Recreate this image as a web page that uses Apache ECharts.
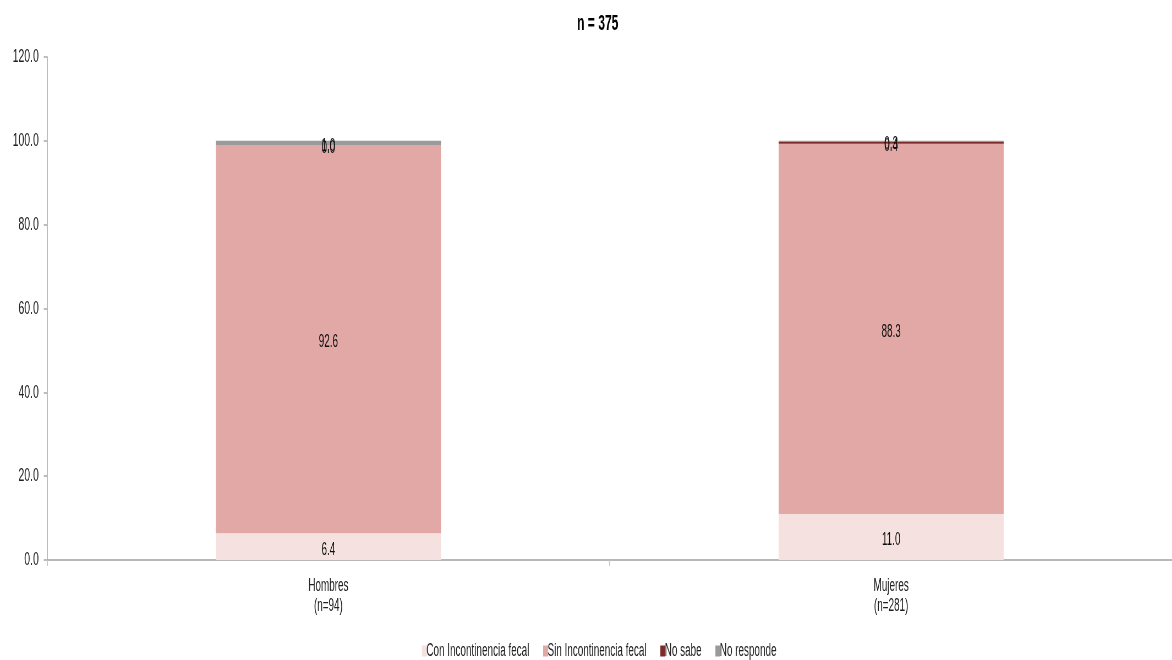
<!DOCTYPE html>
<html>
<head>
<meta charset="utf-8">
<script src="https://cdn.jsdelivr.net/npm/echarts@6/dist/echarts.min.js"></script>
<style>
html,body{margin:0;padding:0;background:#fff;overflow:hidden}
#wrap{width:1172px;height:660px;overflow:hidden;position:relative}
#c{height:660px;transform-origin:0 0;position:absolute;left:0;top:0}
</style>
</head>
<body>
<div id="wrap"><div id="c"></div></div>
<script>
const categories = ['Hombres\n(n=94)', 'Mujeres\n(n=281)'];
const conIncontinencia = [6.4, 11.0];
const sinIncontinencia = [92.6, 88.3];
const noSabe = [0.0, 0.4];
const noResponde = [1.0, 0.3];
const yTicks = [0, 20, 40, 60, 80, 100, 120];
const seriesNames = ['Con Incontinencia fecal', 'Sin Incontinencia fecal', 'No sabe', 'No responde'];
const colors = ['#f4e1e0', '#e1a8a6', '#7b2b2b', '#9a9a9a'];

// the reference uses a very narrow typeface; the whole chart is drawn wider and squeezed horizontally
const SX = 0.55;
const W = 1172 / SX;
const el = document.getElementById('c');
el.style.width = W + 'px';
el.style.transform = 'scaleX(' + SX + ')';

const FONT = '"Liberation Sans", Arial, sans-serif';
const chart = echarts.init(el, null, {width: W, height: 660});
const dataSets = [conIncontinencia, sinIncontinencia, noSabe, noResponde];

chart.setOption({
  animation: false,
  title: {
    text: 'n = 375', left: 574 / SX, top: 8,
    textStyle: {fontFamily: FONT, fontSize: 22, fontWeight: 'bold', color: '#000'}
  },
  legend: {
    top: 637, left: 419 / SX,
    itemWidth: 9, itemHeight: 11, itemGap: 25,
    icon: 'rect',
    textStyle: {fontFamily: FONT, fontSize: 18, color: '#222', padding: [0,0,0,-6]},
    data: seriesNames
  },
  grid: {left: 47 / SX, right: 0, top: 57, bottom: 100, containLabel: false},
  xAxis: {
    type: 'category', data: categories,
    axisLine: {lineStyle: {color: '#a0a0a0', width: 1.5}},
    axisTick: {show: true, length: 6, lineStyle: {color: '#c8c8c8', width: 2}},
    axisLabel: {fontFamily: FONT, fontSize: 18, color: '#222', lineHeight: 20, margin: 16}
  },
  yAxis: {
    type: 'value', min: yTicks[0], max: yTicks[yTicks.length-1], interval: 20,
    splitLine: {show: false},
    axisLine: {show: true, lineStyle: {color: '#bdbdbd', width: 2}},
    axisTick: {show: true, length: 6, lineStyle: {color: '#bdbdbd', width: 2}},
    axisLabel: {fontFamily: FONT, fontSize: 19, color: '#222', margin: 15, formatter: v => v.toFixed(1)}
  },
  series: seriesNames.map((n, i) => ({
    name: n, type: 'bar', stack: 'total', barWidth: '40%',
    data: dataSets[i],
    itemStyle: {color: colors[i]},
    label: {
      show: true, position: 'inside', color: '#111', offset: [0, 3],
      fontFamily: FONT, fontSize: 18,
      formatter: p => p.value.toFixed(1)
    }
  }))
});
</script>
</body>
</html>
